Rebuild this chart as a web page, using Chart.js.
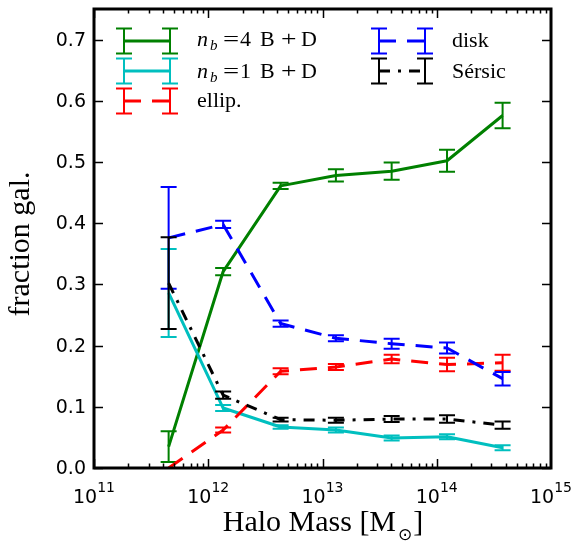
<!DOCTYPE html>
<html>
<head>
<meta charset="utf-8">
<script src="https://cdn.jsdelivr.net/npm/chart.js@4.4.1/dist/chart.umd.min.js"></script>
<style>
  html, body { margin: 0; padding: 0; background: #fff; }
  #wrap { width: 576px; height: 542px; position: relative; }
</style>
</head>
<body>
<div id="wrap"><canvas id="chart"></canvas></div>
<script>
// halo mass bins and galaxy-type fractions (value, 1-sigma error)
const haloMass = [4.5e11, 1.35e12, 4.3e12, 1.31e13, 4.03e13, 1.23e14, 3.77e14];

const fracBulge4 = [0.035, 0.321, 0.461, 0.478, 0.485, 0.502, 0.576];
const errBulge4 = [0.025, 0.006, 0.005, 0.010, 0.014, 0.018, 0.021];

const fracBulge1 = [0.286, 0.098, 0.067, 0.062, 0.049, 0.051, 0.033];
const errBulge1 = [0.072, 0.005, 0.003, 0.004, 0.004, 0.004, 0.004];

const fracEllip = [0.000, 0.062, 0.158, 0.165, 0.178, 0.169, 0.172];
const errEllip = [0.000, 0.004, 0.005, 0.005, 0.007, 0.011, 0.013];

const fracDisk = [0.376, 0.398, 0.236, 0.212, 0.203, 0.196, 0.146];
const errDisk = [0.083, 0.006, 0.005, 0.005, 0.008, 0.009, 0.011];

const fracSersic = [0.302, 0.119, 0.079, 0.078, 0.080, 0.080, 0.070];
const errSersic = [0.075, 0.006, 0.003, 0.004, 0.005, 0.006, 0.006];

const yTicks = [0.0, 0.1, 0.2, 0.3, 0.4, 0.5, 0.6, 0.7];
const xTickExps = [11, 12, 13, 14, 15];

const GREEN = "#008000", CYAN = "#00bfbf", RED = "#ff0000", BLUE = "#0000ff", BLACK = "#000000";
const SERIF = '"Liberation Serif", "DejaVu Serif", serif';
const SANS = '"DejaVu Sans", sans-serif';

function series(vals, errs, color, dash, order) {
  return {
    data: haloMass.map((m, i) => ({ x: m, y: vals[i] })),
    errors: errs,
    borderColor: color,
    backgroundColor: color,
    borderWidth: 3,
    borderDash: dash,
    borderJoinStyle: "round",
    pointRadius: 0,
    tension: 0,
    fill: false,
    order,
  };
}

// vertical error bars with caps, drawn right after each dataset's line
const errorBars = {
  id: "errorBars",
  afterDatasetDraw(chart, args) {
    const ds = chart.data.datasets[args.index];
    const xs = chart.scales.x, ys = chart.scales.y;
    const ctx = chart.ctx;
    ctx.save();
    ctx.strokeStyle = ds.borderColor;
    ctx.lineWidth = 2;
    ctx.setLineDash([]);
    ds.data.forEach((p, i) => {
      const e = ds.errors[i];
      if (!e) return;
      const px = xs.getPixelForValue(p.x);
      const top = ys.getPixelForValue(p.y + e);
      const bot = ys.getPixelForValue(p.y - e);
      ctx.beginPath();
      ctx.moveTo(px, top); ctx.lineTo(px, bot);
      ctx.moveTo(px - 8, top); ctx.lineTo(px + 8, top);
      ctx.moveTo(px - 8, bot); ctx.lineTo(px + 8, bot);
      ctx.stroke();
    });
    ctx.restore();
  },
};

// frame, inward ticks, tick labels and axis titles
const frameAxes = {
  id: "frameAxes",
  afterDraw(chart) {
    const { ctx, chartArea: a } = chart;
    const xs = chart.scales.x, ys = chart.scales.y;
    ctx.save();
    ctx.strokeStyle = "#000";
    ctx.fillStyle = "#000";
    ctx.setLineDash([]);

    ctx.lineWidth = 1.5;
    ctx.beginPath();
    yTicks.forEach((v) => {
      const py = Math.round(ys.getPixelForValue(v)) + 0.5;
      ctx.moveTo(a.left, py); ctx.lineTo(a.left + 9, py);
      ctx.moveTo(a.right, py); ctx.lineTo(a.right - 9, py);
    });
    for (let e = 11; e < 15; e++) {
      for (let k = 1; k < 10; k++) {
        const px = Math.round(xs.getPixelForValue(k * Math.pow(10, e))) + 0.5;
        const len = k === 1 ? 9 : 4.5;
        ctx.moveTo(px, a.bottom); ctx.lineTo(px, a.bottom - len);
        ctx.moveTo(px, a.top); ctx.lineTo(px, a.top + len);
      }
    }
    ctx.stroke();

    ctx.lineWidth = 3;
    ctx.strokeRect(a.left, a.top, a.right - a.left, a.bottom - a.top);

    // y tick labels
    ctx.font = `19px ${SANS}`;
    ctx.textAlign = "right";
    ctx.textBaseline = "middle";
    yTicks.forEach((v) => {
      ctx.fillText(v.toFixed(1), a.left - 8, ys.getPixelForValue(v) + 1);
    });

    // x tick labels: 10 with raised exponent
    ctx.textBaseline = "alphabetic";
    ctx.textAlign = "left";
    xTickExps.forEach((e) => {
      const px = xs.getPixelForValue(Math.pow(10, e));
      ctx.font = `19px ${SANS}`;
      const wBase = ctx.measureText("10").width;
      ctx.font = `14px ${SANS}`;
      const wExp = ctx.measureText(String(e)).width;
      const x0 = px - (wBase + wExp) / 2;
      ctx.font = `19px ${SANS}`;
      ctx.fillText("10", x0, 503);
      ctx.font = `14px ${SANS}`;
      ctx.fillText(String(e), x0 + wBase, 492);
    });

    // x axis title
    ctx.font = `30px ${SERIF}`;
    const t1 = "Halo Mass [M", t3 = "]";
    const w1 = ctx.measureText(t1).width, w3 = ctx.measureText(t3).width;
    ctx.font = `17px ${SANS}`;
    const w2 = ctx.measureText("\u2299").width + 3;
    let x0 = 323 - (w1 + w2 + w3) / 2;
    ctx.font = `30px ${SERIF}`;
    ctx.fillText(t1, x0, 531);
    ctx.font = `17px ${SANS}`;
    ctx.fillText("\u2299", x0 + w1 + 2, 540);
    ctx.font = `30px ${SERIF}`;
    ctx.fillText(t3, x0 + w1 + w2, 531);

    // y axis title
    ctx.save();
    ctx.translate(29, 244);
    ctx.rotate(-Math.PI / 2);
    ctx.textAlign = "center";
    ctx.fillText("fraction gal.", 0, 0);
    ctx.restore();

    ctx.restore();
  },
};

// legend: line sample with an error bar at each end, then the label;
// label pieces are [text, style, x offset, baseline shift, x stretch]
const nbLabel = (n) => [
  ["n", "i", 0, 0, 1], ["b", "s", 13, 4, 1], ["=", "r", 26, 0, 1.3], [n, "r", 43, 0, 1],
  ["B", "r", 63, 0, 1], ["+", "r", 84, 0, 1.25], ["D", "r", 104, 0, 1],
];
const legendEntries = [
  { color: GREEN, dash: [], x: 124, y: 41, base: 46, label: nbLabel("4") },
  { color: CYAN, dash: [], x: 124, y: 71, base: 78, label: nbLabel("1") },
  { color: RED, dash: [17, 11], x: 124, y: 101, base: 107, label: [["ellip.", "r", 0, 0, 1]] },
  { color: BLUE, dash: [17, 11], x: 379, y: 41, base: 46.5, label: [["disk", "r", 0, 0, 1]] },
  { color: BLACK, dash: [11, 8, 3, 8], x: 379, y: 71, base: 78, label: [["S\u00e9rsic", "r", 0, 0, 1]] },
];

const legendBox = {
  id: "legendBox",
  afterDraw(chart) {
    const ctx = chart.ctx;
    ctx.save();
    legendEntries.forEach((it) => {
      const x1 = it.x, x2 = it.x + 46, y = it.y;
      ctx.strokeStyle = it.color;
      ctx.lineWidth = 3;
      ctx.setLineDash(it.dash);
      ctx.beginPath();
      ctx.moveTo(x1, y); ctx.lineTo(x2, y);
      ctx.stroke();
      ctx.setLineDash([]);
      ctx.lineWidth = 2;
      ctx.beginPath();
      [x1, x2].forEach((bx) => {
        ctx.moveTo(bx, y - 12.5); ctx.lineTo(bx, y + 12.5);
        ctx.moveTo(bx - 8, y - 12.5); ctx.lineTo(bx + 8, y - 12.5);
        ctx.moveTo(bx - 8, y + 12.5); ctx.lineTo(bx + 8, y + 12.5);
      });
      ctx.stroke();

      ctx.fillStyle = "#000";
      ctx.textBaseline = "alphabetic";
      ctx.textAlign = "left";
      const tx = x2 + 27;
      it.label.forEach(([txt, kind, dx, dy, sx]) => {
        if (kind === "i") ctx.font = `italic 22px ${SERIF}`;
        else if (kind === "s") ctx.font = `italic 15px ${SERIF}`;
        else ctx.font = `22px ${SERIF}`;
        ctx.save();
        ctx.translate(tx + dx, it.base + dy);
        ctx.scale(sx, 1);
        ctx.fillText(txt, 0, 0);
        ctx.restore();
      });
    });
    ctx.restore();
  },
};

new Chart(document.getElementById("chart"), {
  type: "line",
  data: {
    datasets: [
      series(fracBulge4, errBulge4, GREEN, [], 5),
      series(fracBulge1, errBulge1, CYAN, [], 4),
      series(fracEllip, errEllip, RED, [17, 11], 3),
      series(fracDisk, errDisk, BLUE, [17, 11], 2),
      series(fracSersic, errSersic, BLACK, [11, 8, 3, 8], 1),
    ],
  },
  options: {
    responsive: true,
    maintainAspectRatio: false,
    animation: false,
    layout: { padding: { left: 94, right: 25, top: 9, bottom: 74 } },
    plugins: { legend: { display: false }, tooltip: { enabled: false } },
    scales: {
      x: { type: "logarithmic", min: 1e11, max: 1e15, display: false },
      y: { type: "linear", min: 0, max: 0.75, display: false },
    },
  },
  plugins: [errorBars, frameAxes, legendBox],
});
</script>
</body>
</html>
